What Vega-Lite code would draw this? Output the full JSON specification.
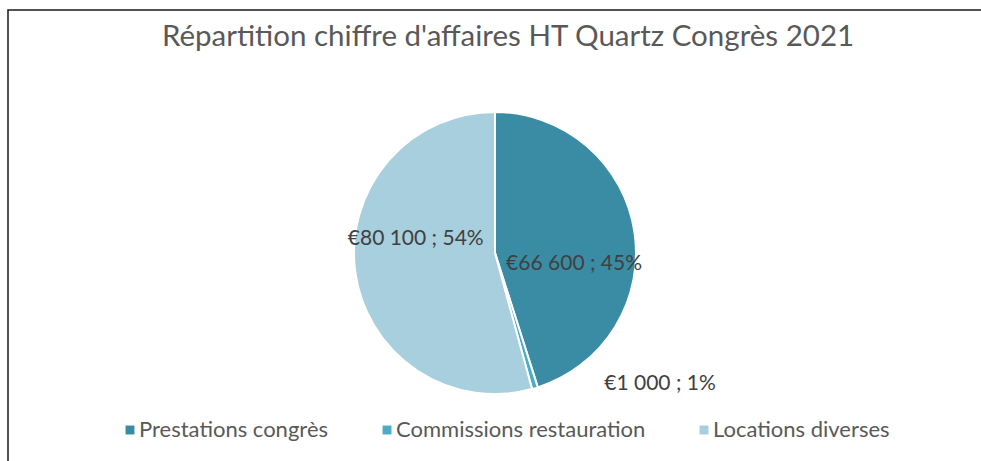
{
  "$schema": "https://vega.github.io/schema/vega-lite/v6.json",
  "width": 974,
  "height": 486,
  "autosize": {"type": "none"},
  "padding": {"left": 8, "top": 10, "right": 0, "bottom": 0},
  "background": "white",
  "view": {"stroke": "#1a1a1a", "strokeWidth": 1.5},
  "config": {
    "view": {"stroke": "#1a1a1a", "strokeWidth": 1.5},
    "style": {"view": {"stroke": "#1a1a1a", "strokeWidth": 1.5}, "cell": {"stroke": "#1a1a1a", "strokeWidth": 1.5}},
    "font": "Lato"
  },
  "title": {
    "text": "Répartition chiffre d'affaires HT Quartz Congrès 2021",
    "orient": "top",
    "anchor": "middle",
    "baseline": "alphabetic",
    "offset": -65,
    "dx": 13,
    "fontSize": 29.5,
    "fontWeight": "normal",
    "color": "#595959",
    "font": "Lato"
  },
  "data": {
    "values": [
      {"categorie": "Prestations congrès", "montant": 66600, "ordre": 1, "label": "€66 600 ; 45%"},
      {"categorie": "Commissions restauration", "montant": 1000, "ordre": 2, "label": "€1 000 ; 1%"},
      {"categorie": "Locations diverses", "montant": 80100, "ordre": 3, "label": "€80 100 ; 54%"}
    ]
  },
  "encoding": {
    "theta": {"field": "montant", "type": "quantitative", "stack": true},
    "order": {"field": "ordre", "type": "quantitative"}
  },
  "layer": [
    {
      "mark": {"type": "arc", "outerRadius": 141, "stroke": "white", "strokeWidth": 2},
      "encoding": {
        "color": {
          "field": "categorie",
          "type": "nominal",
          "sort": ["Prestations congrès", "Commissions restauration", "Locations diverses"],
          "scale": {
            "domain": ["Prestations congrès", "Commissions restauration", "Locations diverses"],
            "range": ["#3A8CA4", "#4BACC6", "#A8CFDD"]
          },
          "legend": {
            "title": null,
            "orient": "none",
            "direction": "horizontal",
            "legendX": 111,
            "legendY": 409,
            "columns": 3,
            "symbolType": "square",
            "symbolSize": 80,
            "symbolStrokeWidth": 0,
            "labelFontSize": 22,
            "labelColor": "#595959",
            "labelFont": "Lato",
            "columnPadding": 47,
            "labelOffset": -2,
            "labelLimit": 400
          }
        }
      }
    },
    {
      "mark": {"type": "text", "radius": 80, "dy": 23, "fontSize": 21, "color": "#404040", "font": "Lato"},
      "encoding": {"text": {"condition": {"test": "datum.ordre == 1", "field": "label"}, "value": ""}}
    },
    {
      "mark": {"type": "text", "radius": 80, "dy": -25, "fontSize": 21, "color": "#404040", "font": "Lato"},
      "encoding": {"text": {"condition": {"test": "datum.ordre == 3", "field": "label"}, "value": ""}}
    },
    {
      "mark": {"type": "text", "radius": 135, "dx": 71, "dy": 2, "align": "left", "fontSize": 21, "color": "#404040", "font": "Lato"},
      "encoding": {"text": {"condition": {"test": "datum.ordre == 2", "field": "label"}, "value": ""}}
    }
  ]
}
